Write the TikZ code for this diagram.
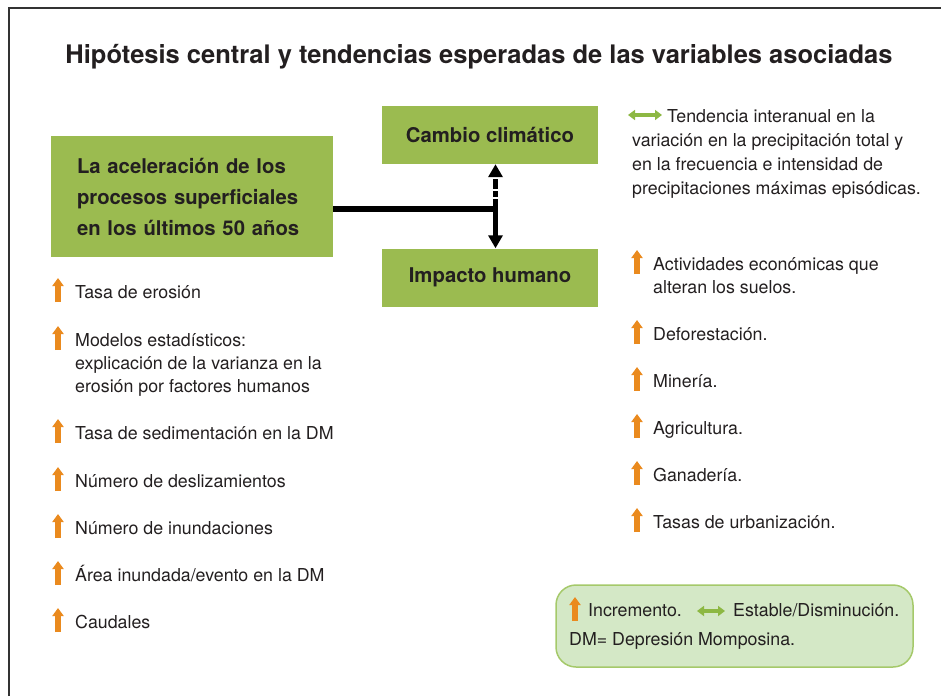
\documentclass[tikz,border=0pt]{standalone}
\usepackage{fontspec}
\setmainfont{TeX Gyre Heros}
\usetikzlibrary{arrows.meta}

\definecolor{Marco}{HTML}{333333}
\definecolor{Texto}{HTML}{231F20}
\definecolor{CajaVerde}{HTML}{9BBB50}
\definecolor{LeyendaFondo}{HTML}{D4E8C6}
\definecolor{LeyendaBorde}{HTML}{A5C96A}
\definecolor{Naranja}{HTML}{EA8A1E}
\definecolor{VerdeFlecha}{HTML}{8DB843}

\newcommand{\lineas}[1]{\begin{tabular}[t]{@{}l@{}}#1\end{tabular}}

\tikzset{
  titulo/.style={text=Texto, font=\fontsize{25.5}{30}\selectfont\bfseries},
  caja/.style={fill=CajaVerde, text=Texto, font=\fontsize{20.3}{31}\selectfont\bfseries},
  item/.style={anchor=base west, inner sep=0pt, text=Texto, font=\fontsize{17.8}{23}\selectfont},
  sube/.style={draw=Naranja, line width=5.5pt, -{Triangle[width=11pt,length=8pt]}},
  estable/.style={draw=VerdeFlecha, line width=4.5pt,
    {Triangle[width=10pt,length=7pt]}-{Triangle[width=10pt,length=7pt]}},
  enlace/.style={line width=5pt, -{Triangle[width=14pt,length=13pt]}},
}

\begin{document}
\begin{tikzpicture}[x=1pt,y=-1pt]
\useasboundingbox (0,0) rectangle (941,696);

% Marco
\draw[line width=2pt, Marco] (9,696) -- (9,8) -- (941,8);

\node[titulo] (T) at (479,57) {Hipótesis central y tendencias esperadas de las variables asociadas};

% Cajas
\node[caja, minimum width=282pt, minimum height=121pt, text width=230pt, align=left] (H) at (192,196.5)
  {La aceleración de los\\procesos superficiales\\en los últimos 50 años};
\node[caja, minimum width=216pt, minimum height=58pt] (C) at (490,135) {Cambio climático};
\node[caja, minimum width=216pt, minimum height=58pt] (I) at (490,277.5) {Impacto humano};

% Enlaces
\coordinate (J) at (495.5,208.5);
\draw[line width=6pt] (J -| H.east) -- ([xshift=2.5pt]J);
\draw[enlace] (J) -- (J |- I.north);
\draw[enlace, dash pattern=on 10pt off 2pt on 6pt off 2pt] (J) -- (J |- C.south);

% Columna izquierda
\node[item] (E1) at (75,298) {Tasa de erosión};
\node[item] (E2) at (75,346) {\lineas{Modelos estadísticos:\\explicación de la varianza en la\\erosión por factores humanos}};
\node[item] (E3) at (75,439) {Tasa de sedimentación en la DM};
\node[item] (E4) at (75,487) {Número de deslizamientos};
\node[item] (E5) at (75,534) {Número de inundaciones};
\node[item] (E6) at (75,581) {Área inundada/evento en la DM};
\node[item] (E7) at (75,628) {Caudales};
\draw[sube] ([shift={(-17,4)}]E1.base west) -- ++(0,-24);
\draw[sube] ([shift={(-17,4)}]E2.base west) -- ++(0,-24);
\draw[sube] ([shift={(-17,4)}]E3.base west) -- ++(0,-24);
\draw[sube] ([shift={(-17,4)}]E4.base west) -- ++(0,-24);
\draw[sube] ([shift={(-17,4)}]E5.base west) -- ++(0,-24);
\draw[sube] ([shift={(-17,4)}]E6.base west) -- ++(0,-24);
\draw[sube] ([shift={(-17,4)}]E7.base west) -- ++(0,-24);

% Columna derecha
\node[item, font=\fontsize{17.8}{24}\selectfont] (P) at (632,122)
  {\lineas{\hspace{35pt}Tendencia interanual en la\\variación en la precipitación total y\\en la frecuencia e intensidad de\\precipitaciones máximas episódicas.}};
\draw[estable] ([shift={(-4,-7)}]P.base west) -- ++(34,0);

\node[item] (A1) at (653,270) {\lineas{Actividades económicas que\\alteran los suelos.}};
\node[item] (A2) at (653,340) {Deforestación.};
\node[item] (A3) at (653,387) {Minería.};
\node[item] (A4) at (653,434) {Agricultura.};
\node[item] (A5) at (653,481) {Ganadería.};
\node[item] (A6) at (653,528) {Tasas de urbanización.};
\draw[sube] ([shift={(-16,4)}]A1.base west) -- ++(0,-24);
\draw[sube] ([shift={(-16,4)}]A2.base west) -- ++(0,-24);
\draw[sube] ([shift={(-16,4)}]A3.base west) -- ++(0,-24);
\draw[sube] ([shift={(-16,4)}]A4.base west) -- ++(0,-24);
\draw[sube] ([shift={(-16,4)}]A5.base west) -- ++(0,-24);
\draw[sube] ([shift={(-16,4)}]A6.base west) -- ++(0,-24);

% Leyenda
\node[draw=LeyendaBorde, fill=LeyendaFondo, line width=1.5pt, rounded corners=20pt,
  minimum width=357pt, minimum height=82pt] (L) at (734.5,626) {};
\node[item] (Inc) at (588,616) {Incremento.};
\node[item] (Est) at (733,616) {Estable/Disminución.};
\node[item] (DM) at (569,645) {DM= Depresión Momposina.};
\draw[sube] ([shift={(-13,5)}]Inc.base west) -- ++(0,-24);
\draw[estable] ([shift={(-36,-5)}]Est.base west) -- ++(28,0);

\end{tikzpicture}
\end{document}
